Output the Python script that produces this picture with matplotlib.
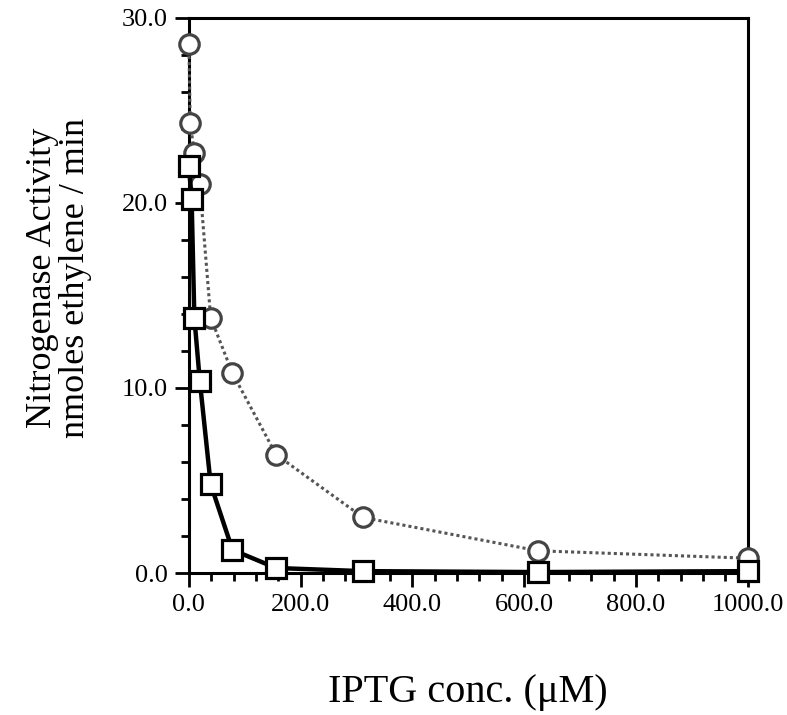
import matplotlib
matplotlib.use("Agg")
import matplotlib.pyplot as plt
from matplotlib.ticker import MultipleLocator, FormatStrFormatter

# Data
iptg_circle = [0, 2.4, 9.8, 19.5, 39, 78, 156, 312, 625, 1000]
activity_circle = [28.6, 24.3, 22.7, 21.0, 13.8, 10.8, 6.4, 3.0, 1.2, 0.8]
iptg_square = [0, 4.9, 9.8, 19.5, 39, 78, 156, 312, 625, 1000]
activity_square = [22.0, 20.2, 13.8, 10.4, 4.8, 1.25, 0.27, 0.1, 0.05, 0.1]

x_ticks = [0, 200, 400, 600, 800, 1000]
y_ticks = [0, 10, 20, 30]

plt.rcParams['font.family'] = ['Liberation Serif', 'DejaVu Serif']

fig = plt.figure(figsize=(7.87, 7.15), dpi=100)
ax = fig.add_axes([0.240, 0.1986, 0.710, 0.7764])

ax.plot(iptg_circle, activity_circle, linestyle=(0, (1, 1)), color='#555555', lw=2.2,
        marker='o', markersize=14, markerfacecolor='white', markeredgecolor='#444444',
        markeredgewidth=2.3, zorder=3, clip_on=False)
ax.plot(iptg_square, activity_square, linestyle='-', color='black', lw=3.2,
        marker='s', markersize=15, markerfacecolor='white', markeredgecolor='black',
        markeredgewidth=2.3, zorder=4, clip_on=False)

ax.set_xlim(0, 1000)
ax.set_ylim(0, 30)
ax.set_xticks(x_ticks)
ax.set_yticks(y_ticks)
ax.xaxis.set_minor_locator(MultipleLocator(40))
ax.yaxis.set_minor_locator(MultipleLocator(2))
ax.xaxis.set_major_formatter(FormatStrFormatter('%.1f'))
ax.yaxis.set_major_formatter(FormatStrFormatter('%.1f'))

for s in ax.spines.values():
    s.set_linewidth(2.2)

ax.tick_params(axis='both', which='major', direction='out', length=10, width=2, labelsize=19, pad=5)
ax.tick_params(axis='both', which='minor', direction='out', length=6, width=2)
ax.tick_params(top=False, right=False, which='both')

ax.set_xlabel('IPTG conc. (\u03bcM)', fontsize=29, labelpad=42)
ax.set_ylabel('Nitrogenase Activity\nnmoles ethylene / min', fontsize=26,
              linespacing=1.0)
ax.yaxis.set_label_coords(-0.174, 0.532)

fig.savefig('out.png', dpi=100)
